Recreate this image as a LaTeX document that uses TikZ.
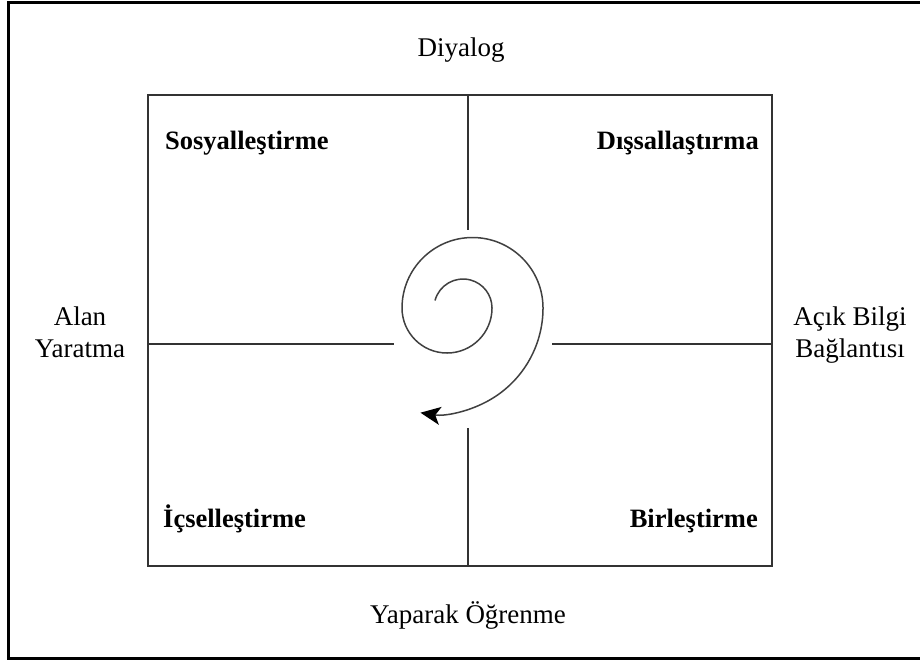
\documentclass[tikz,border=0pt]{standalone}
\usepackage{fontspec}
\setmainfont{Liberation Serif}
\usetikzlibrary{arrows.meta}
\begin{document}
\begin{tikzpicture}[x=1pt,y=-1pt,
  label text/.style={font=\fontsize{27}{32}\selectfont,align=center,inner sep=0pt},
  mode text/.style={font=\fontsize{26.5}{31}\selectfont\bfseries,inner sep=0pt}]
  \clip (0,0) rectangle (920,664);
  \useasboundingbox (0,0) rectangle (920,664);
  % frame and quadrants
  \draw[line width=3pt] (8,2) rectangle (930,658);
  \coordinate (NW) at (148,95);
  \coordinate (SE) at (772,566);
  \draw[line width=1.8pt,black!80] (NW) rectangle (SE);
  \draw[line width=1.8pt,black!80] (468,95)--(468,230);
  \draw[line width=1.8pt,black!80] (468,428)--(468,566);
  \draw[line width=1.8pt,black!80] (148,344)--(394,344);
  \draw[line width=1.8pt,black!80] (552,344)--(772,344);
  % spiral
  \coordinate (spin) at (435,300.5);
  \draw[line width=1.5pt,black!75,-{Stealth[length=20pt,width=18pt,inset=5pt,black]}] (spin)
    arc[start angle=195,end angle=360,radius=29]
    arc[start angle=0,end angle=180,radius=45]
    arc[start angle=180,end angle=360,radius=70.5]
    arc[start angle=0,end angle=99,radius=106];
  % labels
  \node[label text,anchor=base] (dia) at (461,56) {Diyalog};
  \node[label text,anchor=base] (yap) at (468,623) {Yaparak Öğrenme};
  \node[label text,anchor=base] (alan) at (80,357) {Alan\\Yaratma};
  \node[label text,anchor=base] (acik) at (850,357) {Açık Bilgi\\Bağlantısı};
  \foreach \name/\pos/\anc/\txt in {sos/{165,149}/base west/Sosyalleştirme,
      dis/{759,149}/base east/Dışsallaştırma,
      ics/{163,527}/base west/İçselleştirme,
      bir/{758,527}/base east/Birleştirme} {
    \node[mode text,anchor=\anc] (\name) at (\pos) {\txt};
  }
\end{tikzpicture}
\end{document}
